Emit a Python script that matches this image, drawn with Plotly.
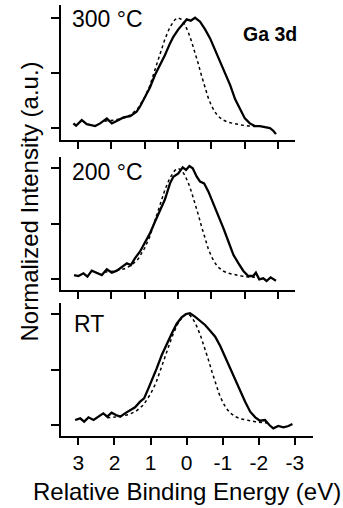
import plotly.graph_objects as go

# ---- data (relative binding energy in eV, normalized intensity) ----
e_300 = [3.13, 3.05, 2.88, 2.73, 2.48, 2.33, 2.13, 1.98, 1.88, 1.63, 1.43, 1.24, 1.14, 0.99,
         0.84, 0.69, 0.54, 0.39, 0.24, 0.14, -0.01, -0.14, -0.26, -0.38, -0.51, -0.66, -0.81,
         -0.96, -1.11, -1.26, -1.41, -1.56, -1.71, -1.86, -2.00, -2.15, -2.30, -2.45, -2.60,
         -2.75, -2.85, -2.93]
i_300 = [0.045, 0.024, 0.075, 0.039, 0.021, 0.045, 0.090, 0.045, 0.060, 0.099, 0.111, 0.150,
         0.196, 0.286, 0.370, 0.482, 0.572, 0.663, 0.768, 0.828, 0.895, 0.943, 0.985, 0.973,
         1.000, 0.964, 0.895, 0.813, 0.708, 0.617, 0.512, 0.391, 0.262, 0.165, 0.090, 0.045,
         0.021, 0.021, 0.009, 0.003, -0.021, -0.052]

e_200 = [3.11, 2.98, 2.83, 2.71, 2.58, 2.43, 2.28, 2.13, 1.98, 1.83, 1.68, 1.53, 1.41, 1.29,
         1.14, 0.99, 0.84, 0.69, 0.54, 0.39, 0.24, 0.14, -0.01, -0.14, -0.24, -0.34, -0.44,
         -0.56, -0.66, -0.78, -0.91, -1.06, -1.21, -1.36, -1.51, -1.66, -1.81, -1.95, -2.10,
         -2.25, -2.33, -2.43, -2.55, -2.65, -2.77, -2.93]
i_200 = [0.039, 0.030, 0.054, 0.024, 0.078, 0.060, 0.039, 0.090, 0.060, 0.078, 0.108, 0.144,
         0.129, 0.189, 0.249, 0.330, 0.414, 0.519, 0.624, 0.721, 0.865, 0.925, 0.955, 1.009,
         0.985, 1.021, 1.000, 0.925, 0.880, 0.865, 0.790, 0.685, 0.579, 0.459, 0.339, 0.219,
         0.144, 0.078, 0.030, 0.030, 0.060, 0.000, 0.009, -0.015, 0.018, -0.012]

e_rt = [3.09, 2.95, 2.84, 2.72, 2.58, 2.45, 2.31, 2.20, 2.08, 1.96, 1.84, 1.71, 1.57, 1.43,
        1.29, 1.18, 1.06, 0.94, 0.83, 0.69, 0.55, 0.41, 0.28, 0.14, 0.02, -0.09, -0.23, -0.37,
        -0.51, -0.65, -0.79, -0.93, -1.06, -1.20, -1.34, -1.48, -1.62, -1.76, -1.90, -2.03,
        -2.17, -2.29, -2.40, -2.54, -2.68, -2.82, -2.93]
i_rt = [0.045, 0.060, 0.030, 0.069, 0.045, 0.075, 0.105, 0.075, 0.111, 0.090, 0.075, 0.105,
        0.135, 0.159, 0.210, 0.240, 0.330, 0.420, 0.510, 0.630, 0.736, 0.826, 0.910, 0.970,
        1.000, 1.006, 0.976, 0.940, 0.901, 0.850, 0.796, 0.712, 0.616, 0.525, 0.420, 0.315,
        0.210, 0.120, 0.069, 0.039, 0.045, 0.000, -0.030, -0.009, -0.021, -0.009, 0.009]

e_ref = [2.2, 1.9, 1.6, 1.4, 1.2, 1.0, 0.85, 0.7, 0.55, 0.4, 0.25, 0.1, 0.0, -0.1, -0.2,
         -0.3, -0.4, -0.5, -0.6, -0.7, -0.8, -0.9, -1.0, -1.1, -1.2, -1.35, -1.5, -1.7, -1.9,
         -2.1, -2.3]
i_ref = [0.065, 0.075, 0.095, 0.125, 0.18, 0.28, 0.38, 0.52, 0.66, 0.80, 0.91, 0.98, 1.0,
         0.985, 0.94, 0.875, 0.79, 0.695, 0.59, 0.48, 0.37, 0.28, 0.205, 0.15, 0.11, 0.075,
         0.055, 0.04, 0.03, 0.022, 0.018]

panel_labels = ["300 °C", "200 °C", "RT"]
x_tickvals = [3, 2, 1, 0, -1, -2, -3]
x_ticktext = ["3", "2", "1", "0", "-1", "-2", "-3"]
y_tickvals = [0, 0.5, 1]

# ---- figure ----
W, H = 343, 508
FONT = "Liberation Sans, Arial, Helvetica, sans-serif"

def px(x):
    return x / W

def py(y):
    return 1 - y / H

fig = go.Figure()
series = [(e_300, i_300), (e_200, i_200), (e_rt, i_rt)]
for k, (ex, iy) in enumerate(series):
    ax = "" if k == 0 else str(k + 1)
    fig.add_trace(go.Scatter(x=e_ref, y=i_ref, mode="lines", xaxis="x" + ax, yaxis="y" + ax,
                             line=dict(color="black", width=1.5, dash="3px,3px"),
                             showlegend=False, hoverinfo="skip"))
    fig.add_trace(go.Scatter(x=ex, y=iy, mode="lines", xaxis="x" + ax, yaxis="y" + ax,
                             line=dict(color="black", width=2.3),
                             showlegend=False))

axis_common = dict(showline=True, linecolor="black", linewidth=1.5, ticks="outside",
                   tickcolor="black", tickwidth=1.5, showgrid=False, zeroline=False,
                   fixedrange=True)

# panel geometry in pixels: (left, right, top, bottom)
geo = [(60.7, 295, 5, 140), (60.7, 295, 156.7, 290), (60.7, 313, 303, 436)]
xranges = [[3.51, -3.5], [3.51, -3.5], [3.49, -3.5]]
yranges = [[-0.105, 1.115], [-0.096, 1.105], [-0.099, 1.099]]

layout = dict(width=W, height=H, margin=dict(l=0, r=0, t=0, b=0),
              paper_bgcolor="white", plot_bgcolor="white",
              font=dict(family=FONT, color="black"))
for k in range(3):
    l, r, t, b = geo[k]
    sx = "xaxis" if k == 0 else "xaxis%d" % (k + 1)
    sy = "yaxis" if k == 0 else "yaxis%d" % (k + 1)
    ya = "y" if k == 0 else "y%d" % (k + 1)
    xa = "x" if k == 0 else "x%d" % (k + 1)
    layout[sx] = dict(axis_common, domain=[px(l), px(r)], range=xranges[k], anchor=ya,
                      tickvals=x_tickvals, ticktext=x_ticktext, ticklen=7,
                      showticklabels=(k == 2), tickfont=dict(size=21, family=FONT))
    layout[sy] = dict(axis_common, domain=[py(b), py(t)], range=yranges[k], anchor=xa,
                      tickvals=y_tickvals, showticklabels=False, ticklen=8)

fig.update_layout(**layout)

ann = []
label_pos = [(70, 18.5), (70, 171.5), (71.5, 323.5)]
for k, lab in enumerate(panel_labels):
    ann.append(dict(text=lab, x=px(label_pos[k][0]), y=py(label_pos[k][1]), xref="paper",
                    yref="paper", xanchor="left", yanchor="middle", showarrow=False,
                    font=dict(size=23, family=FONT)))
ann.append(dict(text="<b>Ga 3d</b>", x=px(269.5), y=py(34), xref="paper", yref="paper",
                xanchor="center", yanchor="middle", showarrow=False,
                font=dict(size=19.5, family=FONT)))
ann.append(dict(text="Relative Binding Energy (eV)", x=px(186.5), y=py(491), xref="paper",
                yref="paper", xanchor="center", yanchor="middle", showarrow=False,
                font=dict(size=24, family=FONT)))
ann.append(dict(text="Normalized Intensity (a.u.)", x=px(29), y=py(201.5), xref="paper",
                yref="paper", xanchor="center", yanchor="middle", showarrow=False,
                textangle=-90, font=dict(size=24, family=FONT)))
fig.update_layout(annotations=ann)

fig.write_html("out.html")
